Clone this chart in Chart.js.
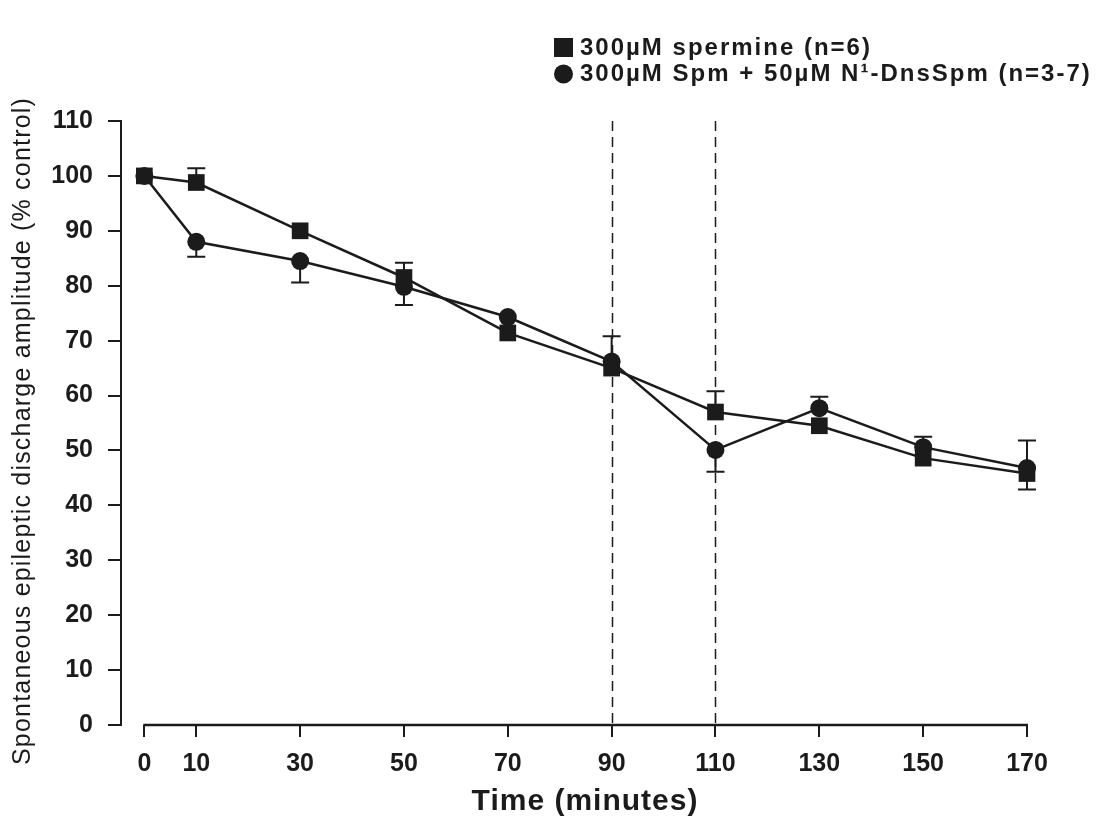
<!DOCTYPE html>
<html>
<head>
<meta charset="utf-8">
<script src="https://cdn.jsdelivr.net/npm/chart.js@4.4.0/dist/chart.umd.min.js"></script>
<style>
  html, body { margin: 0; padding: 0; background: #fff; }
  #wrap { width: 1100px; height: 824px; position: relative; }
</style>
</head>
<body>
<div id="wrap"><canvas id="chart" width="1100" height="824"></canvas></div>
<script>
// time points (minutes) and tick labels
const timePoints = [0, 10, 30, 50, 70, 90, 110, 130, 150, 170];
const xTicks = [0, 10, 30, 50, 70, 90, 110, 130, 150, 170];
const yTicks = [0, 10, 20, 30, 40, 50, 60, 70, 80, 90, 100, 110];
const drugLines = [90, 110];

// 300uM spermine (squares)
const spermine = [100, 98.8, 90.0, 81.5, 71.4, 65.0, 57.0, 54.5, 48.6, 45.8];
const spermineErrUp = [0, 2.6, 0, 2.7, 0, 0, 3.8, 0, 0, 0];
const spermineErrDown = [0, 0, 0, 0, 0, 0, 0, 0, 0, 2.9];

// 300uM Spm + 50uM N1-DnsSpm (circles)
const spmDns = [100, 88.0, 84.5, 79.8, 74.3, 66.2, 50.1, 57.7, 50.6, 46.8];
const spmDnsErrUp = [0, 0, 0, 0, 0, 4.6, 0, 2.1, 1.9, 5.0];
const spmDnsErrDown = [0, 2.7, 3.9, 3.3, 0, 0, 4.0, 0, 0, 0];

const seriesLabels = ['300µM spermine (n=6)', '300µM Spm + 50µM N¹-DnsSpm (n=3-7)'];
const xTitle = 'Time (minutes)';
const yTitle = 'Spontaneous epileptic discharge amplitude (% control)';

const INK = '#1b1b1b';
const FONT = "'Liberation Sans', Arial, sans-serif";

const toPoints = ys => timePoints.map((t, i) => ({ x: t, y: ys[i] }));

// error bars, dashed drug lines, the detached x axis line, titles and legend
const extras = {
    id: 'extras',
    beforeDatasetsDraw(chart) {
        const { ctx, chartArea, scales: { x, y } } = chart;
        ctx.save();
        // dashed vertical lines
        ctx.strokeStyle = INK;
        ctx.lineWidth = 1.5;
        ctx.setLineDash([10, 6]);
        drugLines.forEach(v => {
            const px = Math.round(x.getPixelForValue(v)) + 0.5;
            ctx.beginPath();
            ctx.moveTo(px, chartArea.top);
            ctx.lineTo(px, chartArea.bottom);
            ctx.stroke();
        });
        ctx.setLineDash([]);
        // x axis line, only from 0 to 170
        ctx.lineWidth = 2.5;
        ctx.beginPath();
        ctx.moveTo(x.getPixelForValue(0) - 1, chartArea.bottom);
        ctx.lineTo(x.getPixelForValue(170) + 1, chartArea.bottom);
        ctx.stroke();

        // error bars
        const sets = [
            [spermine, spermineErrUp, spermineErrDown],
            [spmDns, spmDnsErrUp, spmDnsErrDown]
        ];
        ctx.lineWidth = 2;
        sets.forEach(([vals, up, down]) => {
            timePoints.forEach((t, i) => {
                const px = x.getPixelForValue(t);
                const py = y.getPixelForValue(vals[i]);
                [[up[i], 1], [down[i], -1]].forEach(([e, dir]) => {
                    if (!e) return;
                    const ey = y.getPixelForValue(vals[i] + dir * e);
                    ctx.beginPath();
                    ctx.moveTo(px, py);
                    ctx.lineTo(px, ey);
                    ctx.moveTo(px - 9, ey);
                    ctx.lineTo(px + 9, ey);
                    ctx.stroke();
                });
            });
        });
        ctx.restore();
    },
    afterDraw(chart) {
        const { ctx } = chart;
        ctx.save();
        ctx.fillStyle = INK;

        // legend
        ctx.font = 'bold 24px ' + FONT;
        ctx.letterSpacing = '2px';
        ctx.textBaseline = 'middle';
        ctx.fillRect(554, 38, 19, 19);
        ctx.fillText(seriesLabels[0], 580, 48);
        ctx.beginPath();
        ctx.arc(563.5, 74, 9.5, 0, Math.PI * 2);
        ctx.fill();
        ctx.fillText(seriesLabels[1], 580, 74);

        // x title
        ctx.font = 'bold 30px ' + FONT;
        ctx.letterSpacing = '1px';
        ctx.textAlign = 'center';
        ctx.fillText(xTitle, 585, 802);

        // y title
        ctx.font = '25px ' + FONT;
        ctx.letterSpacing = '1.2px';
        ctx.textBaseline = 'alphabetic';
        ctx.translate(30, 431);
        ctx.rotate(-Math.PI / 2);
        ctx.fillText(yTitle, 0, 0);
        ctx.restore();
    }
};

new Chart(document.getElementById('chart'), {
    type: 'line',
    data: {
        datasets: [
            {
                label: seriesLabels[0],
                data: toPoints(spermine),
                borderColor: INK,
                backgroundColor: INK,
                borderWidth: 2.5,
                pointStyle: 'rect',
                pointRadius: 11.8,
                pointBorderWidth: 0,
                clip: false,
                tension: 0
            },
            {
                label: seriesLabels[1],
                data: toPoints(spmDns),
                borderColor: INK,
                backgroundColor: INK,
                borderWidth: 2.5,
                pointStyle: 'circle',
                pointRadius: 9,
                pointBorderWidth: 0,
                clip: false,
                tension: 0
            }
        ]
    },
    options: {
        responsive: false,
        animation: false,
        layout: { padding: { top: 121, right: 73, left: 0, bottom: 0 } },
        plugins: {
            legend: { display: false },
            tooltip: { enabled: false }
        },
        scales: {
            x: {
                type: 'linear',
                min: -4.5,
                max: 170,
                afterBuildTicks: scale => { scale.ticks = xTicks.map(v => ({ value: v })); },
                afterFit: scale => { scale.height = 99; },
                border: { display: false },
                grid: { drawOnChartArea: false, drawTicks: true, tickLength: 12, color: INK, lineWidth: 2 },
                ticks: { color: INK, font: { family: FONT, size: 25, weight: 'bold' }, padding: 12, maxRotation: 0 }
            },
            y: {
                min: 0,
                max: 110,
                afterBuildTicks: scale => { scale.ticks = yTicks.map(v => ({ value: v })); },
                afterFit: scale => { scale.width = 121; },
                border: { display: true, color: INK, width: 2 },
                grid: { drawOnChartArea: false, drawTicks: true, tickLength: 13, color: INK, lineWidth: 2 },
                ticks: { color: INK, font: { family: FONT, size: 25, weight: 'bold' }, padding: 15 }
            }
        }
    },
    plugins: [extras]
});
</script>
</body>
</html>
